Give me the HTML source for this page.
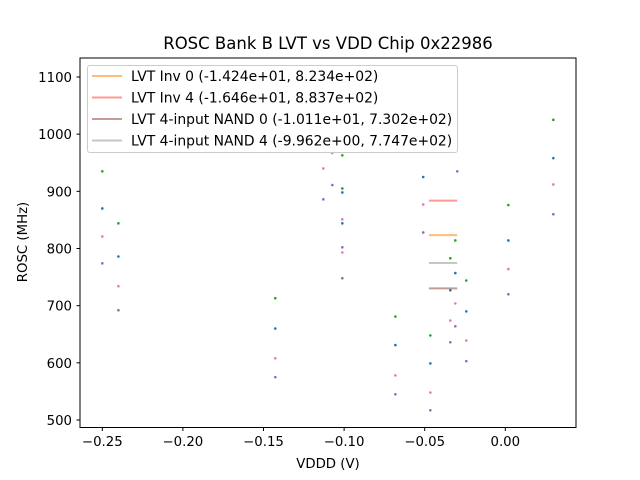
<!DOCTYPE html>
<html><head><meta charset="utf-8"><style>
html,body{margin:0;padding:0;background:#fff;}
svg{display:block;font-family:"DejaVu Sans","Liberation Sans",sans-serif;}
</style></head><body>
<svg id="chart" width="640" height="480">
<rect width="640" height="480" fill="#fff"/>
<text x="328" y="49" font-size="16.5" text-anchor="middle">ROSC Bank B LVT vs VDD Chip 0x22986</text>
<g id="plot"></g>
<rect x="80" y="58" width="496" height="369.5" fill="none" stroke="#000" stroke-width="1"/>
<g id="xt"></g>
<g id="yt"></g>
<text x="328" y="468" font-size="13.3" text-anchor="middle">VDDD (V)</text>
<text transform="translate(27,242) rotate(-90)" font-size="13.3" text-anchor="middle">ROSC (MHz)</text>
<g id="legend"></g>
</svg>
<script>
const xTicks=[-0.25,-0.20,-0.15,-0.10,-0.05,0.00];
const xTickLabels=["−0.25","−0.20","−0.15","−0.10","−0.05","0.00"];
const yTicks=[500,600,700,800,900,1000,1100];
const greenX=[-0.25,-0.24,-0.1427,-0.1011,-0.1011,-0.0682,-0.0465,-0.0341,-0.031,-0.0242,0.0019,0.0298];
const greenY=[935,844,713,963,905,681,648,783,814,744,876,1025];
const blueX=[-0.25,-0.24,-0.1427,-0.1011,-0.1011,-0.0682,-0.0509,-0.0465,-0.0341,-0.031,-0.0242,0.0019,0.0298];
const blueY=[870,786,660,898,844,631,925,599,727,757,690,814,958];
const pinkX=[-0.25,-0.24,-0.1427,-0.1129,-0.1073,-0.1011,-0.1011,-0.0682,-0.0509,-0.0465,-0.0341,-0.031,-0.0242,0.0019,0.0298];
const pinkY=[821,734,608,940,967,851,793,578,877,548,674,704,639,764,912];
const purpleX=[-0.25,-0.24,-0.1427,-0.1129,-0.1073,-0.1011,-0.1011,-0.0682,-0.0509,-0.0465,-0.0341,-0.031,-0.0298,-0.0242,0.0019,0.0298];
const purpleY=[774,692,575,886,911,802,748,545,828,517,636,664,935,603,720,860];
const fitLabels=["LVT Inv 0 (-1.424e+01, 8.234e+02)","LVT Inv 4 (-1.646e+01, 8.837e+02)","LVT 4-input NAND 0 (-1.011e+01, 7.302e+02)","LVT 4-input NAND 4 (-9.962e+00, 7.747e+02)"];
const fitValues=[823.4,883.7,730.2,774.7];
const fitColors=["#ffbb78","#ff9896","#c49c94","#c7c7c7"];
const fitRange=[-0.0474,-0.0298];

const NS="http://www.w3.org/2000/svg";
function xs(v){return 505.3+1612*v;}
function ys(v){return 420-(v-500)*0.5717;}
function mk(tag,attrs,parent){const e=document.createElementNS(NS,tag);for(const k in attrs)e.setAttribute(k,attrs[k]);parent.appendChild(e);return e;}
const plot=document.getElementById('plot');
const xt=document.getElementById('xt');
const yt=document.getElementById('yt');
const lg=document.getElementById('legend');

xTicks.forEach((t,i)=>{
  const l=mk('line',{x1:xs(t),x2:xs(t),y1:427.5,y2:431,stroke:'#000'},xt);
  
  
  const tx=mk('text',{x:xs(t),y:446,'font-size':13.3,'text-anchor':'middle'},xt);
  tx.textContent=xTickLabels[i];
  
  
});
yTicks.forEach(t=>{
  const l=mk('line',{x1:76.5,x2:80,y1:ys(t),y2:ys(t),stroke:'#000'},yt);
  
  
  const tx=mk('text',{x:72,y:ys(t)+5,'font-size':13.3,'text-anchor':'end'},yt);
  tx.textContent=String(t);
  
  
});
fitValues.forEach((v,i)=>{
  const l=mk('line',{x1:xs(fitRange[0]),x2:xs(fitRange[1]),y1:ys(v),y2:ys(v),stroke:fitColors[i],'stroke-width':2},plot);
  
  
});
[[greenX,greenY,'#2ca02c'],[blueX,blueY,'#1f77b4'],[pinkX,pinkY,'#e377c2'],[purpleX,purpleY,'#9467bd']].forEach(s=>{
  s[0].forEach((x,i)=>{
    const c=mk('circle',{cx:xs(x),cy:ys(s[1][i]),r:1.3,fill:s[2]},plot);
    
    
  });
});
const box=mk('rect',{x:87.5,y:65.5,width:370,height:87,rx:2.5,fill:'#fff','fill-opacity':0.8,stroke:'#ccc'},lg);


fitLabels.forEach((t,i)=>{
  const y=76+i*21.5;
  const l=mk('line',{x1:92,x2:122,y1:y,y2:y,stroke:fitColors[i],'stroke-width':2},lg);
  
  
  const tx=mk('text',{x:131,y:y+5,'font-size':13.9},lg);
  tx.textContent=t;
  
  
});
</script>
</body></html>
